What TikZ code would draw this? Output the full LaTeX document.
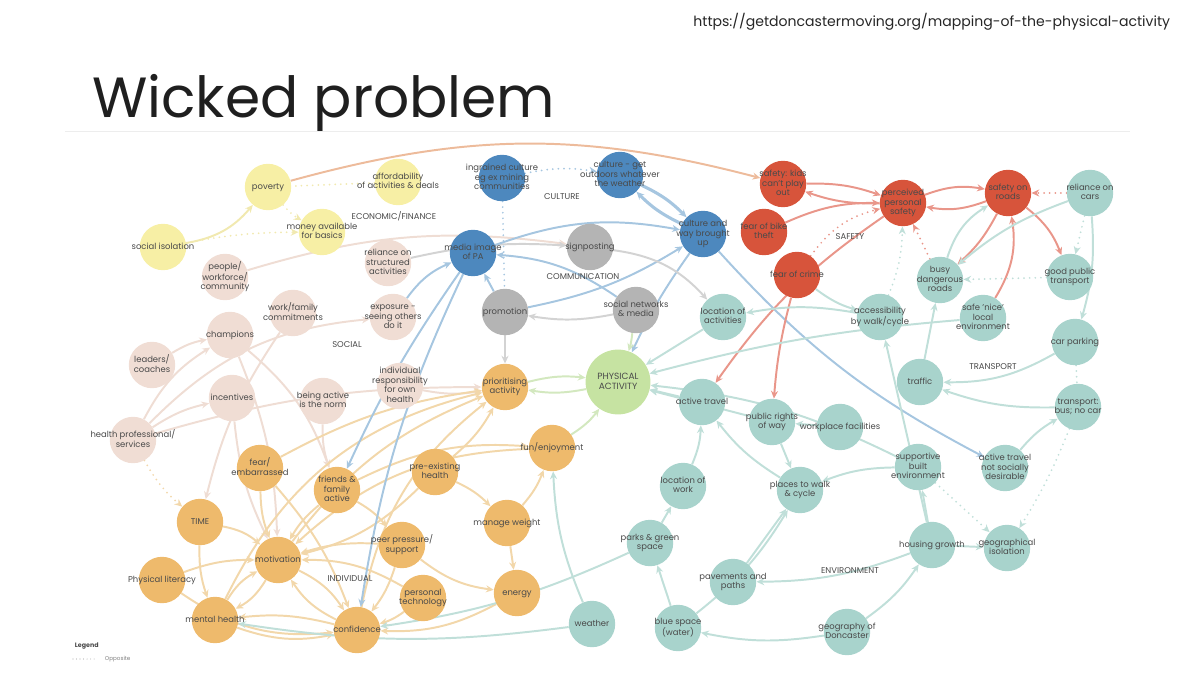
\documentclass[tikz,border=0pt]{standalone}
\usepackage{fontspec}
\setmainfont{Poppins}
\usetikzlibrary{arrows.meta, backgrounds}

\definecolor{ink}{HTML}{4A4A4A}
% node fills
\definecolor{ylwN}{HTML}{F7EFA5}
\definecolor{pnkN}{HTML}{F0DDD4}
\definecolor{orgN}{HTML}{EEBA6C}
\definecolor{bluN}{HTML}{4D88BE}
\definecolor{gryN}{HTML}{B4B4B4}
\definecolor{redN}{HTML}{D7543B}
\definecolor{grnN}{HTML}{C6E3A2}
\definecolor{tlN}{HTML}{A8D3CC}
% edge colours
\definecolor{ylwE}{HTML}{F1E9B0}
\definecolor{pnkE}{HTML}{EFDDD4}
\definecolor{orgE}{HTML}{F2D7AA}
\definecolor{bluE}{HTML}{A6C6E0}
\definecolor{gryE}{HTML}{D3D3D3}
\definecolor{redE}{HTML}{E9968A}
\definecolor{grnE}{HTML}{D3E8BF}
\definecolor{tlE}{HTML}{C0DFD9}

% text that may spill over the circle without making it grow
\newcommand{\nodetext}[1]{\smash{\raisebox{-1.6pt}{\makebox[0pt]{\begin{tabular}{@{}c@{}}#1\end{tabular}}}}}

\tikzset{
  topic/.style={circle, fill=#1, minimum size=1.16cm, inner sep=0pt,
    text=ink, font=\fontsize{6}{6.8}\selectfont},
  area/.style={text=ink, font=\fontsize{6}{7}\selectfont},
  lnk/.style={draw=#1, line width=1.4pt, -{Stealth[length=5.5pt,width=5pt]}},
  opp/.style={draw=#1, line width=1.4pt, line cap=round, dash pattern=on 0pt off 4pt,
    -{Stealth[length=5.5pt,width=5pt]}},
  arcL/.style={bend left=#1},
  arcR/.style={bend right=#1},
}

\begin{document}
\begin{tikzpicture}[x=0.025cm, y=-0.025cm]
\useasboundingbox (0,0) rectangle (1200,675);

% heading
\node[anchor=base west, inner sep=0pt, font=\fontsize{40.3}{46}\selectfont, text=black!88] (title) at (92,118) {Wicked problem};
\node[anchor=base east, font=\fontsize{10}{12}\selectfont, text=black!85] (src) at (1175,27)
  {https://getdoncastermoving.org/mapping-of-the-physical-activity};
\draw[black!7, line width=0.5pt] (65,131) -- (1130,131);

% economic / finance
\node[topic=ylwN] (pov) at (268,187) {\nodetext{poverty}};
\node[topic=ylwN] (afford) at (398,182) {\nodetext{affordability\\of activities \& deals}};
\node[topic=ylwN] (money) at (322,232) {\nodetext{money available\\for basics}};
\node[topic=ylwN] (socIso) at (163,247) {\nodetext{social isolation}};

% social
\node[topic=pnkN] (people) at (225,277) {\nodetext{people/\\workforce/\\community}};
\node[topic=pnkN] (relStruct) at (388,263) {\nodetext{reliance on\\structured\\activities}};
\node[topic=pnkN] (workFam) at (293,313) {\nodetext{work/family\\commitments}};
\node[topic=pnkN] (exposure) at (393,317) {\nodetext{exposure -\\seeing others\\do it}};
\node[topic=pnkN] (champ) at (230,335) {\nodetext{champions}};
\node[topic=pnkN] (leaders) at (152,365) {\nodetext{leaders/\\coaches}};
\node[topic=pnkN] (incent) at (232,398) {\nodetext{incentives}};
\node[topic=pnkN] (norm) at (323,401) {\nodetext{being active\\is the norm}};
\node[topic=pnkN] (indResp) at (400,386) {\nodetext{individual\\responsibility\\for own\\health}};
\node[topic=pnkN] (healthProf) at (133,440) {\nodetext{health professional/\\services}};

% individual
\node[topic=orgN] (fear) at (260,468) {\nodetext{fear/\\embarrassed}};
\node[topic=orgN] (friends) at (337,490) {\nodetext{friends \&\\family\\active}};
\node[topic=orgN] (preEx) at (435,472) {\nodetext{pre-existing\\health}};
\node[topic=orgN] (fun) at (552,448) {\nodetext{fun/enjoyment}};
\node[topic=orgN] (prior) at (505,387) {\nodetext{prioritising\\activity}};
\node[topic=orgN] (time) at (200,522) {\nodetext{TIME}};
\node[topic=orgN] (motiv) at (278,560) {\nodetext{motivation}};
\node[topic=orgN] (peer) at (402,545) {\nodetext{peer pressure/\\support}};
\node[topic=orgN] (weight) at (507,523) {\nodetext{manage weight}};
\node[topic=orgN] (physLit) at (162,580) {\nodetext{Physical literacy}};
\node[topic=orgN] (tech) at (423,598) {\nodetext{personal\\technology}};
\node[topic=orgN] (energy) at (517,593) {\nodetext{energy}};
\node[topic=orgN] (mental) at (215,620) {\nodetext{mental health}};
\node[topic=orgN] (conf) at (357,630) {\nodetext{confidence}};

% culture
\node[topic=bluN] (ingrained) at (502,178) {\nodetext{ingrained culture\\eg ex mining\\communities}};
\node[topic=bluN] (outdoors) at (620,175) {\nodetext{culture - get\\outdoors whatever\\the weather}};
\node[topic=bluN] (wayUp) at (703,234) {\nodetext{culture and\\way brought\\up}};
\node[topic=bluN] (media) at (473,253) {\nodetext{media image\\of PA}};

% communication
\node[topic=gryN] (signpost) at (590,247) {\nodetext{signposting}};
\node[topic=gryN] (promo) at (505,312) {\nodetext{promotion}};
\node[topic=gryN] (socNet) at (636,310) {\nodetext{social networks\\\& media}};

% safety
\node[topic=redN] (kids) at (783,184) {\nodetext{safety: kids\\can't play\\out}};
\node[topic=redN] (bike) at (764,232) {\nodetext{fear of bike\\theft}};
\node[topic=redN] (crime) at (797,275) {\nodetext{fear of crime}};
\node[topic=redN] (perceived) at (903,203) {\nodetext{perceived\\personal\\safety}};
\node[topic=redN] (roads) at (1008,193) {\nodetext{safety on\\roads}};

% the outcome
\node[topic=grnN, minimum size=1.62cm, font=\fontsize{6.4}{7.4}\selectfont] (pa) at (618,382) {\nodetext{PHYSICAL\\ACTIVITY}};

% transport / environment
\node[topic=tlN] (cars) at (1090,193) {\nodetext{reliance on\\cars}};
\node[topic=tlN] (busy) at (940,280) {\nodetext{busy\\dangerous\\roads}};
\node[topic=tlN] (goodPT) at (1070,277) {\nodetext{good public\\transport}};
\node[topic=tlN] (locAct) at (723,317) {\nodetext{location of\\activities}};
\node[topic=tlN] (access) at (880,317) {\nodetext{accessibility\\by walk/cycle}};
\node[topic=tlN] (safeNice) at (983,318) {\nodetext{safe 'nice'\\local\\environment}};
\node[topic=tlN] (carPark) at (1075,342) {\nodetext{car parking}};
\node[topic=tlN] (traffic) at (920,382) {\nodetext{traffic}};
\node[topic=tlN] (bus) at (1078,407) {\nodetext{transport:\\bus; no car}};
\node[topic=tlN] (actTrav) at (702,402) {\nodetext{active travel}};
\node[topic=tlN] (rights) at (772,422) {\nodetext{public rights\\of way}};
\node[topic=tlN] (workFac) at (840,427) {\nodetext{workplace facilities}};
\node[topic=tlN] (builtEnv) at (918,467) {\nodetext{supportive\\built\\environment}};
\node[topic=tlN] (notDesir) at (1005,468) {\nodetext{active travel\\not socially\\desirable}};
\node[topic=tlN] (locWork) at (683,486) {\nodetext{location of\\work}};
\node[topic=tlN] (walkCyc) at (800,490) {\nodetext{places to walk\\\& cycle}};
\node[topic=tlN] (parks) at (650,543) {\nodetext{parks \& green\\space}};
\node[topic=tlN] (housing) at (932,545) {\nodetext{housing growth}};
\node[topic=tlN] (geoIso) at (1007,548) {\nodetext{geographical\\isolation}};
\node[topic=tlN] (pavements) at (733,582) {\nodetext{pavements and\\paths}};
\node[topic=tlN] (weather) at (592,624) {\nodetext{weather}};
\node[topic=tlN] (blueSp) at (678,628) {\nodetext{blue space\\(water)}};
\node[topic=tlN] (geoDon) at (847,632) {\nodetext{geography of\\Doncaster}};

% group labels
\node[area] (lEcon) at (394,216) {ECONOMIC/FINANCE};
\node[area] (lCult) at (562,197) {CULTURE};
\node[area] (lComm) at (583,277) {COMMUNICATION};
\node[area] (lSoc) at (347,345) {SOCIAL};
\node[area] (lSafe) at (850,237) {SAFETY};
\node[area] (lTrans) at (993,367) {TRANSPORT};
\node[area] (lInd) at (350,579) {INDIVIDUAL};
\node[area] (lEnv) at (850,571) {ENVIRONMENT};

% legend
\node[anchor=west, text=ink, font=\bfseries\fontsize{4.5}{5}\selectfont] (legend) at (70,646) {Legend};
\coordinate (legA) at (73,659);
\coordinate (legB) at (96,659);
\draw[opp=gray!60, line width=0.8pt, dash pattern=on 0pt off 2.5pt, -] (legA) -- (legB);
\node[anchor=west, text=gray, font=\fontsize{4}{5}\selectfont] (legOpp) at (100,659) {Opposite};

\begin{scope}[on background layer]
% economic / finance
\draw[lnk=ylwE] (socIso) to[arcR=20] (pov);
\draw[lnk=redE!55!ylwE] (pov) to[arcL=15] (kids);
\draw[opp=ylwE] (pov) to[arcR=10] (money);
\draw[opp=ylwE, -] (afford) to (pov);
\draw[opp=ylwE] (socIso) to[arcL=5] (money);
% social
\draw[lnk=pnkE] (people) to[arcL=12] (signpost);
\draw[lnk=gryE] (relStruct) to[arcL=8] (signpost);
\draw[lnk=pnkE] (healthProf) to[arcL=15] (champ);
\draw[lnk=pnkE] (healthProf) to[arcL=10] (incent);
\draw[lnk=pnkE] (healthProf) to[arcL=20] (exposure);
\draw[opp=orgE] (healthProf) to[arcR=10] (time);
\draw[lnk=pnkE] (healthProf) to[arcL=8] (prior);
\draw[lnk=pnkE] (leaders) to[arcL=10] (champ);
\draw[lnk=pnkE] (champ) to[arcL=10] (motiv);
\draw[lnk=pnkE] (champ) to[arcL=15] (friends);
\draw[lnk=pnkE] (incent) to[arcR=10] (motiv);
\draw[lnk=pnkE] (norm) to[arcR=10] (friends);
\draw[lnk=pnkE] (indResp) to[arcR=10] (prior);
\draw[lnk=pnkE] (workFam) to[arcR=10] (time);
% individual
\draw[lnk=orgE] (time) to[arcL=15] (motiv);
\draw[lnk=orgE] (time) to[arcR=10] (mental);
\draw[lnk=orgE] (physLit) to[arcL=10] (motiv);
\draw[lnk=orgE] (physLit) to[arcR=20] (conf);
\draw[lnk=orgE] (mental) to[arcL=15] (motiv);
\draw[lnk=orgE] (motiv) to[arcL=15] (mental);
\draw[lnk=orgE] (motiv) to[arcL=15] (conf);
\draw[lnk=orgE] (conf) to[arcL=15] (motiv);
\draw[lnk=orgE] (mental) to[arcR=15] (conf);
\draw[lnk=orgE] (conf) to[arcR=10] (mental);
\draw[lnk=orgE] (fear) to[arcR=10] (motiv);
\draw[lnk=orgE] (fear) to[arcL=10] (conf);
\draw[lnk=orgE] (friends) to[arcR=10] (motiv);
\draw[lnk=orgE] (friends) to[arcL=10] (peer);
\draw[lnk=orgE] (friends) to[arcL=15] (fun);
\draw[lnk=orgE] (peer) to[arcL=10] (conf);
\draw[lnk=orgE] (peer) to[arcR=10] (motiv);
\draw[lnk=orgE] (tech) to[arcL=10] (conf);
\draw[lnk=orgE] (tech) to[arcR=15] (motiv);
\draw[lnk=orgE] (preEx) to[arcL=10] (weight);
\draw[lnk=orgE] (preEx) to[arcR=10] (prior);
\draw[lnk=orgE] (preEx) to[arcL=15] (motiv);
\draw[lnk=orgE] (weight) to (energy);
\draw[lnk=orgE] (weight) to[arcR=10] (fun);
\draw[lnk=orgE] (peer) to[arcR=15] (energy);
\draw[lnk=orgE] (energy) to[arcL=15] (conf);
\draw[lnk=orgE] (fun) to[arcR=20] (motiv);
\draw[lnk=orgE] (conf) to[arcL=20] (prior);
\draw[lnk=orgE] (motiv) to[arcL=15] (prior);
\draw[lnk=orgE] (mental) to[arcL=25] (prior);
\draw[lnk=orgE] (fear) to[arcL=10] (prior);
\draw[lnk=grnE] (fun) to[arcR=10] (pa);
\draw[lnk=grnE] (prior) to[arcL=10] (pa);
\draw[lnk=grnE] (pa) to[arcL=10] (prior);
% culture and communication
\draw[opp=bluE] (ingrained) to[arcL=10] (outdoors);
\draw[opp=bluE, -] (ingrained) to (promo);
\draw[lnk=bluE, line width=2.2pt] (outdoors) to[arcL=10] (wayUp);
\draw[lnk=bluE, line width=2.2pt] (wayUp) to[arcL=10] (outdoors);
\draw[lnk=bluE] (media) to[arcL=15] (wayUp);
\draw[lnk=bluE] (promo) to (media);
\draw[lnk=bluE] (socNet) to[arcR=15] (media);
\draw[lnk=bluE] (promo) to[arcR=10] (wayUp);
\draw[lnk=bluE] (wayUp) to[arcR=5] (pa);
\draw[lnk=bluE] (wayUp) to[arcR=10] (notDesir);
\draw[lnk=bluE] (media) to[arcR=5] (friends);
\draw[lnk=bluE] (media) to[arcR=8] (conf);
\draw[lnk=bluE] (exposure) to[arcL=15] (media);
\draw[lnk=gryE] (signpost) to[arcL=20] (locAct);
\draw[lnk=gryE] (promo) to (prior);
\draw[lnk=gryE] (socNet) to[arcL=10] (promo);
\draw[lnk=grnE] (socNet) to[arcL=5] (pa);
% safety
\draw[lnk=redE] (kids) to[arcL=10] (perceived);
\draw[lnk=redE] (perceived) to[arcL=10] (kids);
\draw[lnk=redE] (bike) to[arcL=12] (perceived);
\draw[opp=redE] (crime) to[arcL=20] (perceived);
\draw[lnk=redE] (perceived) to[arcL=15] (roads);
\draw[lnk=redE] (roads) to[arcL=15] (perceived);
\draw[lnk=redE] (roads) to[arcL=15] (goodPT);
\draw[lnk=redE] (safeNice) to[arcR=20] (roads);
\draw[lnk=tlE] (busy) to[arcL=20] (roads);
\draw[lnk=redE] (roads) to[arcL=10] (busy);
\draw[opp=redE] (cars) to (roads);
\draw[opp=redE] (busy) to (perceived);
\draw[opp=tlE] (access) to[arcR=10] (perceived);
\draw[lnk=redE] (perceived) to[arcR=10] (actTrav);
\draw[lnk=redE] (crime) to[arcR=5] (rights);
\draw[lnk=tlE] (crime) to[arcR=10] (access);
% transport and environment
\draw[lnk=tlE] (cars) to[arcR=10] (busy);
\draw[opp=tlE] (cars) to (goodPT);
\draw[lnk=tlE] (cars) to[arcL=10] (carPark);
\draw[opp=tlE] (goodPT) to (busy);
\draw[lnk=tlE] (carPark) to[arcL=15] (traffic);
\draw[lnk=tlE] (bus) to[arcL=10] (traffic);
\draw[opp=tlE, -] (carPark) to (bus);
\draw[lnk=tlE] (notDesir) to[arcL=10] (bus);
\draw[opp=tlE] (bus) to[arcL=5] (geoIso);
\draw[lnk=tlE] (traffic) to (busy);
\draw[lnk=tlE] (builtEnv) to[arcR=10] (walkCyc);
\draw[lnk=tlE] (housing) to (geoIso);
\draw[lnk=tlE] (housing) to[arcL=10] (pavements);
\draw[lnk=tlE] (geoDon) to[arcR=10] (housing);
\draw[lnk=tlE] (geoDon) to[arcL=10] (blueSp);
\draw[lnk=tlE] (blueSp) to (parks);
\draw[lnk=tlE] (blueSp) to[arcR=10] (walkCyc);
\draw[lnk=tlE] (pavements) to (walkCyc);
\draw[lnk=tlE] (walkCyc) to[arcL=10] (actTrav);
\draw[lnk=tlE] (rights) to (walkCyc);
\draw[lnk=tlE] (workFac) to (rights);
\draw[lnk=tlE] (locWork) to[arcR=10] (actTrav);
\draw[lnk=tlE] (actTrav) to (pa);
\draw[lnk=tlE] (locAct) to (pa);
\draw[lnk=tlE] (access) to[arcR=10] (locAct);
\draw[lnk=tlE] (weather) to[arcL=10] (fun);
\draw[lnk=tlE] (weather) to[arcL=8] (mental);
\draw[lnk=tlE] (parks) to[arcL=8] (conf);
\draw[lnk=tlE] (builtEnv) to[arcR=10] (pa);
\draw[lnk=tlE] (safeNice) to[arcR=5] (pa);
\draw[opp=tlE] (builtEnv) to (geoIso);
\draw[lnk=tlE] (housing) to (access);
\draw[lnk=tlE] (housing) to (builtEnv);
\draw[lnk=tlE] (parks) to (locWork);
\draw[lnk=tlE] (rights) to (pa);
\end{scope}
\end{tikzpicture}
\end{document}
